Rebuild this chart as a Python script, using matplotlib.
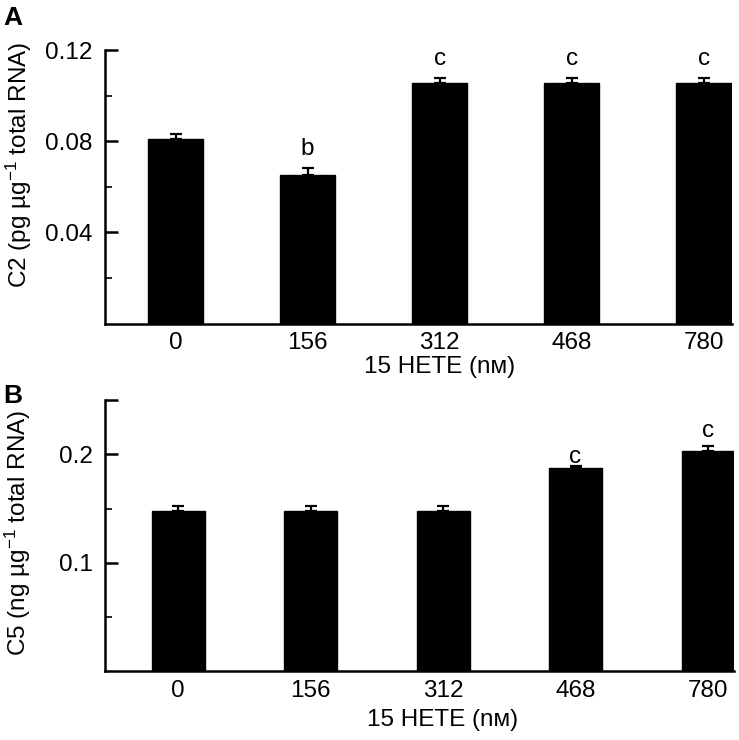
import matplotlib
matplotlib.use("Agg")
import matplotlib.pyplot as plt
import numpy as np

plt.rcParams['font.family'] = ['Liberation Sans', 'DejaVu Sans']
plt.rcParams['mathtext.fontset'] = 'custom'
plt.rcParams['mathtext.rm'] = 'Liberation Sans'
plt.rcParams['mathtext.it'] = 'Liberation Sans:italic'
plt.rcParams['mathtext.bf'] = 'Liberation Sans:bold'

# ---- data ----
categories = ["0", "156", "312", "468", "780"]
c2_values = [0.0808, 0.0651, 0.1054, 0.1054, 0.1054]
c2_errors = [0.0022, 0.0030, 0.0023, 0.0023, 0.0023]
c2_letters = ["", "b", "c", "c", "c"]

c5_values = [0.148, 0.148, 0.148, 0.187, 0.203]
c5_errors = [0.004, 0.004, 0.004, 0.002, 0.005]
c5_letters = ["", "", "", "c", "c"]

xlabel = "15 HETE (n\u1D0D)"
ylabel_a = r"C2 (pg µg$^{-1}$ total RNA)"
ylabel_b = r"C5 (ng µg$^{-1}$ total RNA)"

FS = 17.5
LW = 1.8

fig = plt.figure(figsize=(7.39, 7.40), dpi=100)
axA = fig.add_axes([0.1421, 0.5628, 0.8484, 0.3696])
axB = fig.add_axes([0.1421, 0.0926, 0.8511, 0.3669])


def draw(ax, vals, errs, letters, pads, ylim, major, major_labels, minor, ylabel,
         xlim, width, ylab_y, xlab_y):
    x = np.arange(len(categories))
    ax.bar(x, vals, width=width, color='black', edgecolor='black', zorder=2)
    ax.errorbar(x, vals, yerr=[np.zeros(len(vals)), errs], fmt='none',
                ecolor='black', elinewidth=1.6, capsize=4.5, capthick=1.6, zorder=1)
    for xi, v, e, lt, p in zip(x, vals, errs, letters, pads):
        if lt:
            ax.annotate(lt, (xi, v + e), xytext=(0, p), textcoords='offset points',
                        ha='center', va='baseline', fontsize=FS)
    ax.set_xlim(*xlim)
    ax.set_ylim(*ylim)
    for s in ['top', 'right']:
        ax.spines[s].set_visible(False)
    for s in ['left', 'bottom']:
        ax.spines[s].set_linewidth(LW)
    ax.set_xticks(x)
    ax.set_xticklabels(categories, fontsize=FS)
    ax.tick_params(axis='x', length=0, pad=6)
    ax.set_yticks(major)
    ax.set_yticklabels(major_labels, fontsize=FS)
    ax.set_yticks(minor, minor=True)
    ax.tick_params(axis='y', which='major', direction='in', length=9, width=LW, pad=9)
    ax.tick_params(axis='y', which='minor', direction='in', length=5, width=1.2)
    ax.set_ylabel(ylabel, fontsize=FS)
    ax.yaxis.set_label_coords(-0.114, ylab_y)
    ax.set_xlabel(xlabel, fontsize=FS)
    ax.xaxis.set_label_coords((2 - xlim[0]) / (xlim[1] - xlim[0]), xlab_y)


draw(axA, c2_values, c2_errors, c2_letters, [9.5, 9.5, 9.5, 9.5, 9.5],
     (0, 0.12), [0.04, 0.08, 0.12], ["0.04", "0.08", "0.12"],
     [0.02, 0.06, 0.10], ylabel_a, (-0.534, 4.212), 0.416, 0.58, -0.118)
draw(axB, c5_values, c5_errors, c5_letters, [0, 0, 0, 2.0, 6.5],
     (0, 0.25), [0.1, 0.2, 0.25], ["0.1", "0.2", ""],
     [0.05, 0.15], ylabel_b, (-0.551, 4.196), 0.40, 0.51, -0.138)

fig.text(0.004, 0.966, "A", fontsize=19, fontweight='bold', va='baseline', ha='left')
fig.text(0.004, 0.455, "B", fontsize=19, fontweight='bold', va='baseline', ha='left')

fig.savefig("out.png", dpi=100)
